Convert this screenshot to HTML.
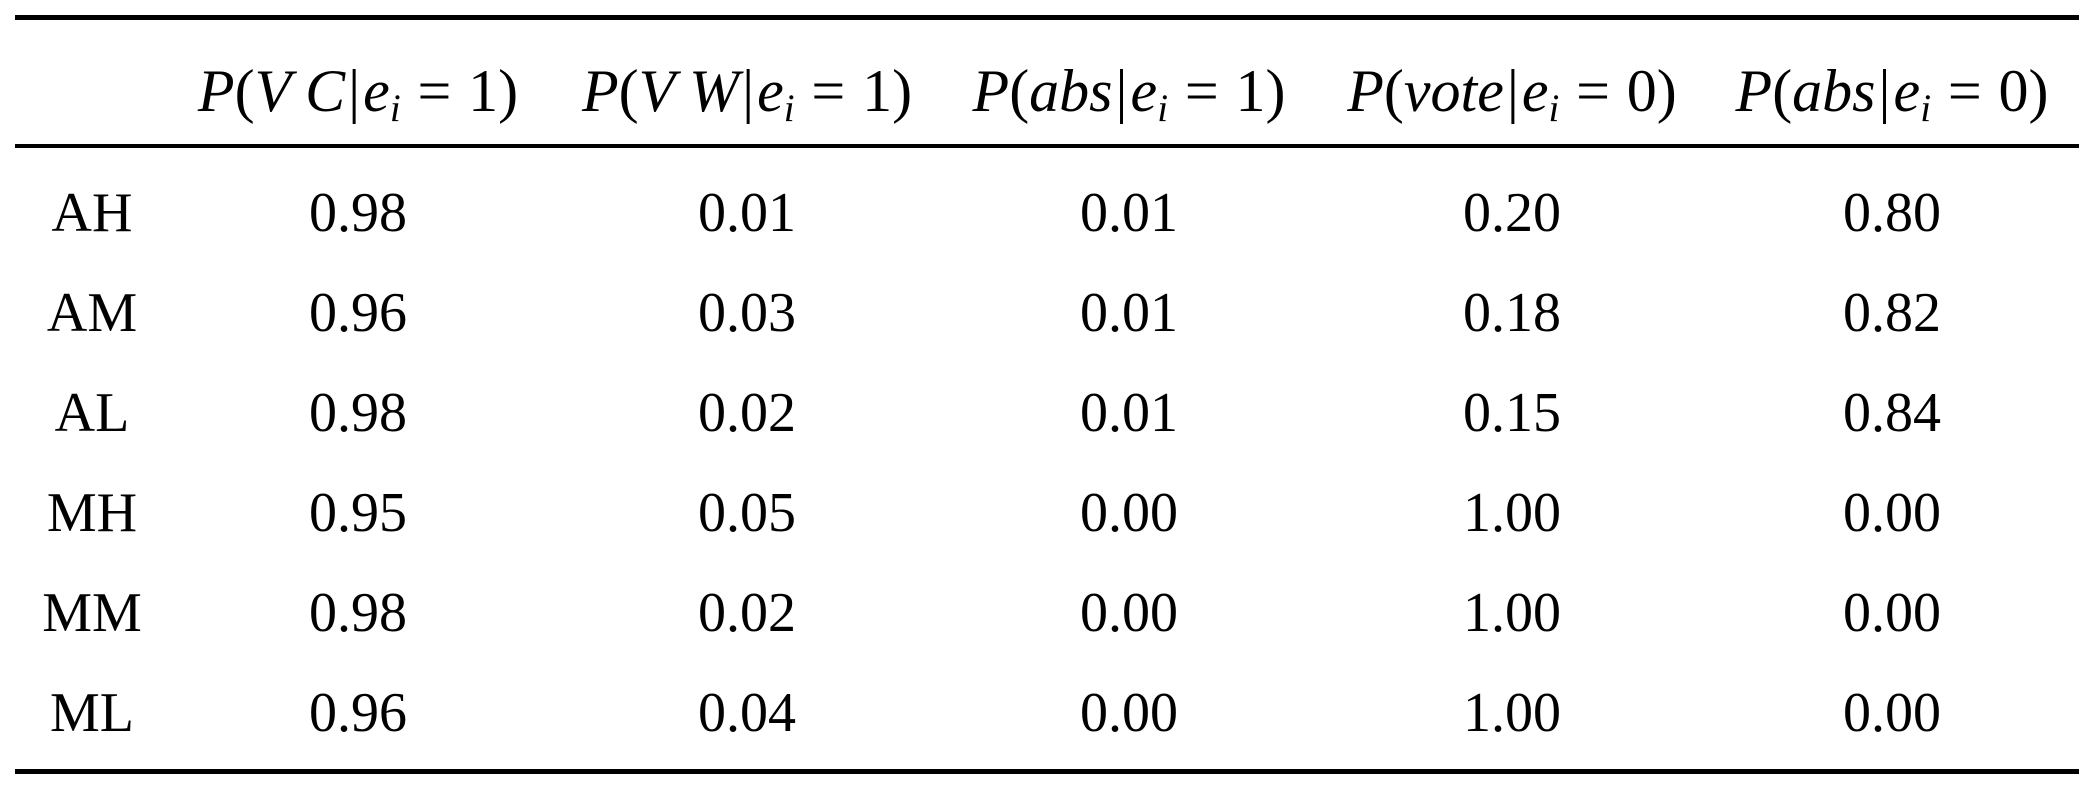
<!DOCTYPE html>
<html><head><meta charset="utf-8"><style>
html,body{margin:0;padding:0;background:#fff;}
body{width:2092px;height:790px;position:relative;overflow:hidden;font-family:"Liberation Serif",serif;color:#000;}
.r{position:absolute;left:15px;width:2064px;background:#000;}
.t{position:absolute;transform:translate(-50%,-50%);white-space:nowrap;font-size:56px;line-height:1;}
.h{font-size:60px;}
i{font-style:italic;}
sub{font-size:0.65em;vertical-align:-0.25em;line-height:0;}
.eq{margin:0 0.28em;}
.b{margin:0 0.05em;}
</style></head><body>
<div class="r" style="top:15px;height:5px"></div>
<div class="r" style="top:144px;height:4px"></div>
<div class="r" style="top:769px;height:5px"></div>

<div class="t h" style="left:358px;top:91px"><i>P</i>(<i>V C</i><span class="b">|</span><i>e<sub>i</sub></i><span class="eq">=</span>1)</div>
<div class="t h" style="left:747px;top:91px"><i>P</i>(<i>V W</i><span class="b">|</span><i>e<sub>i</sub></i><span class="eq">=</span>1)</div>
<div class="t h" style="left:1129px;top:91px"><i>P</i>(<i>abs</i><span class="b">|</span><i>e<sub>i</sub></i><span class="eq">=</span>1)</div>
<div class="t h" style="left:1512px;top:91px"><i>P</i>(<i>vote</i><span class="b">|</span><i>e<sub>i</sub></i><span class="eq">=</span>0)</div>
<div class="t h" style="left:1892px;top:91px"><i>P</i>(<i>abs</i><span class="b">|</span><i>e<sub>i</sub></i><span class="eq">=</span>0)</div>

<div class="t" style="left:92px;top:213px">AH</div>
<div class="t" style="left:358px;top:213px">0.98</div>
<div class="t" style="left:747px;top:213px">0.01</div>
<div class="t" style="left:1129px;top:213px">0.01</div>
<div class="t" style="left:1512px;top:213px">0.20</div>
<div class="t" style="left:1892px;top:213px">0.80</div>

<div class="t" style="left:92px;top:313px">AM</div>
<div class="t" style="left:358px;top:313px">0.96</div>
<div class="t" style="left:747px;top:313px">0.03</div>
<div class="t" style="left:1129px;top:313px">0.01</div>
<div class="t" style="left:1512px;top:313px">0.18</div>
<div class="t" style="left:1892px;top:313px">0.82</div>

<div class="t" style="left:92px;top:413px">AL</div>
<div class="t" style="left:358px;top:413px">0.98</div>
<div class="t" style="left:747px;top:413px">0.02</div>
<div class="t" style="left:1129px;top:413px">0.01</div>
<div class="t" style="left:1512px;top:413px">0.15</div>
<div class="t" style="left:1892px;top:413px">0.84</div>

<div class="t" style="left:92px;top:513px">MH</div>
<div class="t" style="left:358px;top:513px">0.95</div>
<div class="t" style="left:747px;top:513px">0.05</div>
<div class="t" style="left:1129px;top:513px">0.00</div>
<div class="t" style="left:1512px;top:513px">1.00</div>
<div class="t" style="left:1892px;top:513px">0.00</div>

<div class="t" style="left:92px;top:613px">MM</div>
<div class="t" style="left:358px;top:613px">0.98</div>
<div class="t" style="left:747px;top:613px">0.02</div>
<div class="t" style="left:1129px;top:613px">0.00</div>
<div class="t" style="left:1512px;top:613px">1.00</div>
<div class="t" style="left:1892px;top:613px">0.00</div>

<div class="t" style="left:92px;top:713px">ML</div>
<div class="t" style="left:358px;top:713px">0.96</div>
<div class="t" style="left:747px;top:713px">0.04</div>
<div class="t" style="left:1129px;top:713px">0.00</div>
<div class="t" style="left:1512px;top:713px">1.00</div>
<div class="t" style="left:1892px;top:713px">0.00</div>
</body></html>
